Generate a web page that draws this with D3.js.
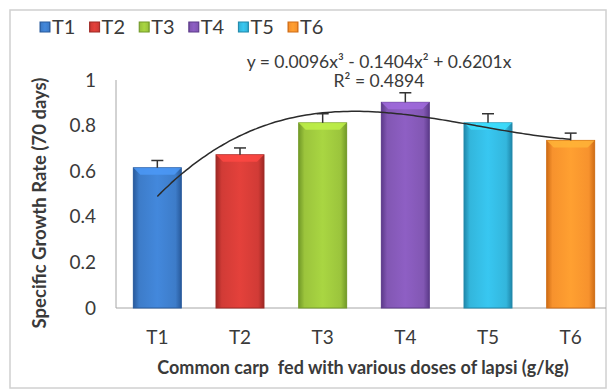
<!DOCTYPE html>
<html>
<head>
<meta charset="utf-8">
<script src="https://cdn.jsdelivr.net/npm/d3@7"></script>
<style>
  body { margin: 0; background: #fff; }
  text { font-family: Lato, "Open Sans", sans-serif; fill: #3a3a3a; }
</style>
</head>
<body>
<div id="chart"></div>
<script>
const categories = ["T1", "T2", "T3", "T4", "T5", "T6"]
const sgr = [0.615, 0.672, 0.812, 0.902, 0.812, 0.735]
const sgrErr = [0.032, 0.03, 0.04, 0.042, 0.04, 0.032]
const yTicks = [0, 0.2, 0.4, 0.6, 0.8, 1]
const trendCoef = [0.0096, -0.1404, 0.6201] // x^3, x^2, x
const barColors = ["#3d7cc9", "#d13b36", "#9bc43c", "#8257b3", "#33b6dc", "#f7922d"]
const barEdges = ["#285a9c", "#9e2824", "#729a28", "#5c3a8a", "#1f87aa", "#cf6d16"]

const width = 608, height = 391
const margin = {top: 80, right: -4, bottom: 83, left: 116}

const svg = d3.select("#chart")
    .append("svg")
    .attr("width", width)
    .attr("height", height)

// outer frame
svg.append("rect")
    .attr("x", 10).attr("y", 10)
    .attr("width", 596).attr("height", 378)
    .attr("fill", "none")
    .attr("stroke", "#d0d0d0")
    .attr("stroke-width", 1.5)

const x = d3.scaleBand()
    .domain(categories)
    .range([margin.left, width - margin.right])
    .paddingInner(0.42)
    .paddingOuter(0.21)

const y = d3.scaleLinear()
    .domain([0, 1])
    .range([height - margin.bottom, margin.top])

const defs = svg.append("defs")
categories.forEach((c, i) => {
    const g = defs.append("linearGradient")
        .attr("id", "grad" + i)
        .attr("x1", "0%").attr("x2", "100%")
    g.append("stop").attr("offset", "0%").attr("stop-color", barEdges[i])
    g.append("stop").attr("offset", "12%").attr("stop-color", barColors[i])
    g.append("stop").attr("offset", "50%").attr("stop-color", d3.color(barColors[i]).brighter(0.25))
    g.append("stop").attr("offset", "88%").attr("stop-color", barColors[i])
    g.append("stop").attr("offset", "100%").attr("stop-color", barEdges[i])
})

// axes
svg.append("line")
    .attr("x1", margin.left).attr("x2", margin.left)
    .attr("y1", y(1)).attr("y2", y(0))
    .attr("stroke", "#a6a6a6")
svg.append("line")
    .attr("x1", margin.left).attr("x2", 606)
    .attr("y1", y(0)).attr("y2", y(0))
    .attr("stroke", "#a6a6a6")

svg.selectAll(".ytick")
    .data(yTicks)
    .enter().append("text")
    .attr("class", "ytick")
    .attr("x", 96)
    .attr("y", d => y(d))
    .attr("dy", "0.35em")
    .attr("text-anchor", "end")
    .style("font-size", "19px")
    .text(d => d)

svg.selectAll(".xtick")
    .data(categories)
    .enter().append("text")
    .attr("class", "xtick")
    .attr("x", d => x(d) + x.bandwidth() / 2)
    .attr("y", 337)
    .attr("dy", "0.35em")
    .attr("text-anchor", "middle")
    .style("font-size", "19px")
    .text(d => d)

// bars
const bars = svg.selectAll(".bar")
    .data(categories)
    .enter().append("g")
    .attr("class", "bar")

bars.append("rect")
    .attr("x", d => x(d))
    .attr("y", (d, i) => y(sgr[i]))
    .attr("width", x.bandwidth())
    .attr("height", (d, i) => y(0) - y(sgr[i]))
    .attr("fill", (d, i) => `url(#grad${i})`)
    .attr("stroke", (d, i) => barEdges[i])
    .attr("stroke-width", 1)

// top bevel highlight
bars.append("path")
    .attr("d", (d, i) => {
        const x0 = x(d), x1 = x(d) + x.bandwidth(), t = y(sgr[i])
        return `M${x0},${t}L${x1},${t}L${x1 - 7},${t + 7}L${x0 + 7},${t + 7}Z`
    })
    .attr("fill", (d, i) => d3.color(barColors[i]).brighter(0.6))
    .attr("opacity", 0.8)

// error bars (upper half only visible)
bars.append("line")
    .attr("x1", d => x(d) + x.bandwidth() / 2)
    .attr("x2", d => x(d) + x.bandwidth() / 2)
    .attr("y1", (d, i) => y(sgr[i]))
    .attr("y2", (d, i) => y(sgr[i] + sgrErr[i]))
    .attr("stroke", "#333")
    .attr("stroke-width", 1.5)
bars.append("line")
    .attr("x1", d => x(d) + x.bandwidth() / 2 - 6)
    .attr("x2", d => x(d) + x.bandwidth() / 2 + 6)
    .attr("y1", (d, i) => y(sgr[i] + sgrErr[i]))
    .attr("y2", (d, i) => y(sgr[i] + sgrErr[i]))
    .attr("stroke", "#333")
    .attr("stroke-width", 1.5)

// polynomial trendline
const xTrend = d3.scaleLinear()
    .domain([1, categories.length])
    .range([x(categories[0]) + x.bandwidth() / 2, x(categories[categories.length - 1]) + x.bandwidth() / 2])
const poly = t => trendCoef[0] * t ** 3 + trendCoef[1] * t ** 2 + trendCoef[2] * t
const trendPts = d3.range(1, categories.length + 0.001, 0.05)
svg.append("path")
    .datum(trendPts)
    .attr("fill", "none")
    .attr("stroke", "#2b2b2b")
    .attr("stroke-width", 1.5)
    .attr("d", d3.line().x(t => xTrend(t)).y(t => y(poly(t))).curve(d3.curveBasis))

// equation
svg.append("text")
    .attr("x", 379).attr("y", 62)
    .attr("dy", "0.35em")
    .attr("text-anchor", "middle")
    .style("font-size", "17.5px")
    .text("y = 0.0096x³ - 0.1404x² + 0.6201x")
svg.append("text")
    .attr("x", 379).attr("y", 81)
    .attr("dy", "0.35em")
    .attr("text-anchor", "middle")
    .style("font-size", "17.5px")
    .text("R² = 0.4894")

// legend
const legend = svg.append("g")
    .attr("transform", "translate(40, 22)")
const li = legend.selectAll("g")
    .data(categories)
    .enter().append("g")
    .attr("transform", (d, i) => `translate(${i * 49.6}, 0)`)
li.append("rect")
    .attr("width", 10).attr("height", 10)
    .attr("fill", (d, i) => `url(#grad${i})`)
    .attr("stroke", (d, i) => barEdges[i])
li.append("text")
    .attr("x", 12).attr("y", 5)
    .attr("dy", "0.35em")
    .style("font-size", "20px")
    .text(d => d)

// axis titles
svg.append("text")
    .attr("transform", "translate(40, 203) rotate(-90)")
    .attr("dy", "0.35em")
    .attr("text-anchor", "middle")
    .style("font-size", "18.5px")
    .style("font-weight", "bold")
    .text("Specific Growth Rate (70 days)")

svg.append("text")
    .attr("x", 363).attr("y", 368)
    .attr("dy", "0.35em")
    .attr("text-anchor", "middle")
    .style("font-size", "18px")
    .style("font-weight", "bold")
    .style("white-space", "pre")
    .text("Common carp  fed with various doses of lapsi (g/kg)")
</script>
</body>
</html>
